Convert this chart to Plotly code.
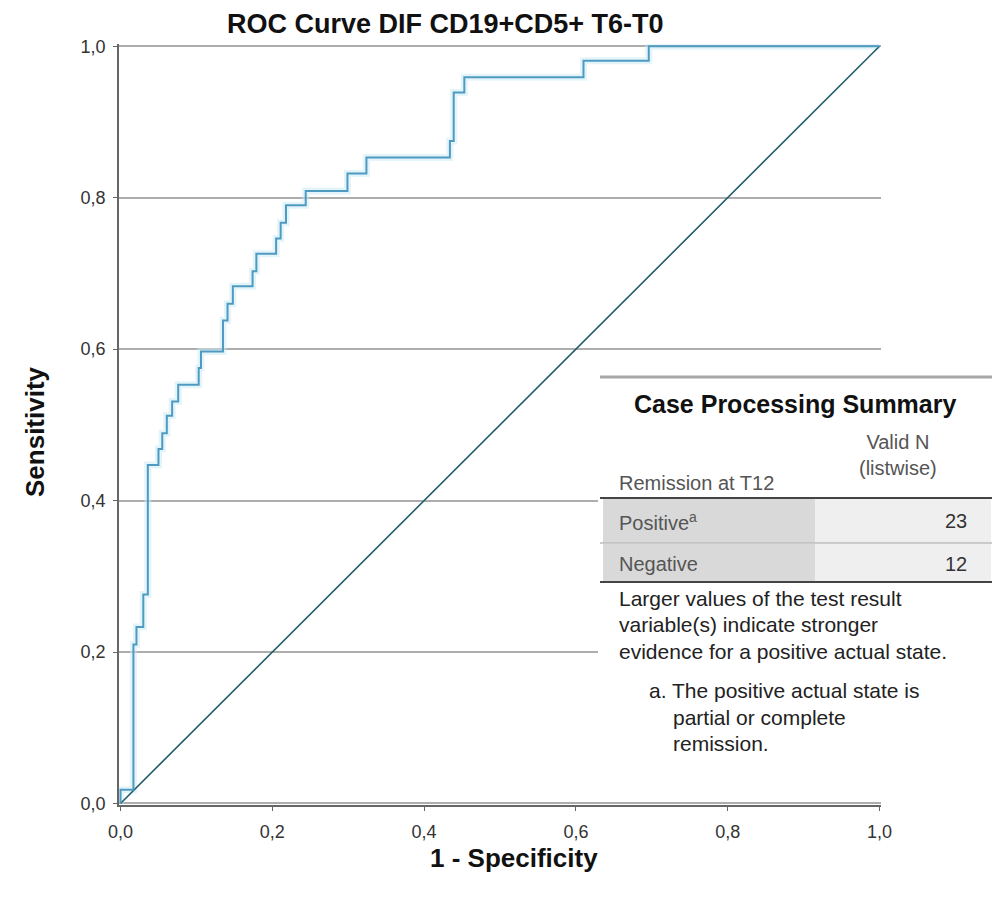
import plotly.graph_objects as go

# ---- data ----
fpr = [0.0, 0.0, 0.017, 0.021, 0.030, 0.036, 0.050, 0.055, 0.061, 0.068, 0.076,
       0.103, 0.106, 0.135, 0.141, 0.148, 0.174, 0.179, 0.205, 0.211, 0.218,
       0.244, 0.299, 0.324, 0.434, 0.439, 0.453, 0.610, 0.696, 1.0]
tpr = [0.0, 0.018, 0.210, 0.233, 0.276, 0.447, 0.468, 0.489, 0.512, 0.531, 0.553,
       0.575, 0.597, 0.638, 0.660, 0.683, 0.703, 0.726, 0.746, 0.767, 0.790,
       0.809, 0.832, 0.853, 0.875, 0.939, 0.959, 0.981, 1.0, 1.0]
ref_x = [0.0, 1.0]
ref_y = [0.0, 1.0]
tick_vals = [0.0, 0.2, 0.4, 0.6, 0.8, 1.0]

title_text = "ROC Curve DIF CD19+CD5+ T6-T0"
x_title = "1 - Specificity"
y_title = "Sensitivity"

table_title = "Case Processing Summary"
col_header = ["Remission at T12", "Valid N<br>(listwise)"]
row_labels = ["Positive<sup>a</sup>", "Negative"]
row_values = [23, 12]
note_lines = ["Larger values of the test result",
              "variable(s) indicate stronger",
              "evidence for a positive actual state."]
foot_lines = ["a. The positive actual state is", "partial or complete", "remission."]

# ---- layout geometry (screen pixels of the reference; page has an 8px body margin) ----
OFF = 8
W, H = 1000 - OFF, 901 - OFF
L, R, T, B = 119, 881, 44, 805
FONT = "Liberation Sans, Arial, sans-serif"


def px(x):
    return (x - L) / (R - L)


def py(y):
    return (B - y) / (B - T)


fig = go.Figure()
# soft halo around ROC curve
fig.add_trace(go.Scatter(x=fpr, y=tpr, mode="lines", line_shape="hv",
                         line=dict(color="rgba(200,234,246,0.5)", width=7),
                         hoverinfo="skip", showlegend=False))
fig.add_trace(go.Scatter(x=ref_x, y=ref_y, mode="lines",
                         line=dict(color="#1f5e68", width=1.6), showlegend=False))
fig.add_trace(go.Scatter(x=fpr, y=tpr, mode="lines", line_shape="hv",
                         line=dict(color="#4f9ac0", width=2), showlegend=False))

axis_common = dict(tickvals=tick_vals, tickformat=".1f", zeroline=False,
                   showline=True, linecolor="#666666", linewidth=1.5,
                   ticks="outside", ticklen=4, tickcolor="#666666",
                   tickfont=dict(family=FONT, size=18, color="#333333"))

fig.update_xaxes(range=[-0.002, 1.002], showgrid=False, ticklabelstandoff=6, **axis_common)
fig.update_yaxes(range=[-0.002, 1.003], showgrid=True, gridcolor="#adadad",
                 gridwidth=1.5, ticklabelstandoff=4, **axis_common)

shapes = []
# table white backdrop
shapes.append(dict(type="rect", xref="paper", yref="paper", layer="above",
                   x0=px(598), x1=px(1000), y0=py(372), y1=py(780),
                   fillcolor="white", line=dict(width=0)))
# cell fills
for (y0, y1) in [(499, 543), (544, 581)]:
    shapes.append(dict(type="rect", xref="paper", yref="paper", layer="above",
                       x0=px(603), x1=px(815), y0=py(y1), y1=py(y0),
                       fillcolor="#d9d9d9", line=dict(width=0)))
    shapes.append(dict(type="rect", xref="paper", yref="paper", layer="above",
                       x0=px(815), x1=px(991), y0=py(y1), y1=py(y0),
                       fillcolor="#efefef", line=dict(width=0)))
# table rules
shapes.append(dict(type="line", xref="paper", yref="paper", layer="above",
                   x0=px(600), x1=px(997), y0=py(377), y1=py(377),
                   line=dict(color="#a8a8a8", width=3)))
shapes.append(dict(type="line", xref="paper", yref="paper", layer="above",
                   x0=px(600), x1=px(992), y0=py(498), y1=py(498),
                   line=dict(color="#444444", width=2)))
shapes.append(dict(type="line", xref="paper", yref="paper", layer="above",
                   x0=px(600), x1=px(992), y0=py(543), y1=py(543),
                   line=dict(color="#bbbbbb", width=1.5)))
shapes.append(dict(type="line", xref="paper", yref="paper", layer="above",
                   x0=px(600), x1=px(992), y0=py(582), y1=py(582),
                   line=dict(color="#444444", width=2)))

ann = []


def text(s, x, y, size, color="#222222", bold=False, xanchor="left", yanchor="middle", angle=0):
    if bold:
        s = "<b>" + s + "</b>"
    ann.append(dict(text=s, x=px(x), y=py(y), xref="paper", yref="paper",
                    xanchor=xanchor, yanchor=yanchor, showarrow=False, textangle=angle,
                    borderpad=0,
                    font=dict(family=FONT, size=size, color=color)))


text(title_text, 445, 24, 27, color="#111111", bold=True, xanchor="center")
text(x_title, 514, 858, 26, color="#111111", bold=True, xanchor="center")
text(y_title, 35, 432, 26, color="#111111", bold=True, xanchor="center", angle=-90)

text(table_title, 795, 404, 25, color="#111111", bold=True, xanchor="center")
text(col_header[0], 618, 483, 20, color="#555555")
ann.append(dict(text=col_header[1], x=px(898), y=py(455), xref="paper", yref="paper",
                xanchor="center", yanchor="middle", showarrow=False,
                font=dict(family=FONT, size=20, color="#555555")))
row_y = [521, 564]
for lab, val, yy in zip(row_labels, row_values, row_y):
    text(lab, 618, yy, 20, color="#555555")
    text(str(val), 968, yy, 20, color="#333333", xanchor="right")

for i, s in enumerate(note_lines):
    text(s, 618, 598 + i * 26.5, 21, color="#222222")
text(foot_lines[0], 648, 690, 21, color="#222222")
text(foot_lines[1], 672, 717, 21, color="#222222")
text(foot_lines[2], 672, 743, 21, color="#222222")

fig.update_layout(width=W, height=H, autosize=False,
                  margin=dict(l=L - OFF, r=1000 - R, t=T - OFF, b=901 - B),
                  plot_bgcolor="white", paper_bgcolor="white",
                  separators=",.", shapes=shapes, annotations=ann,
                  showlegend=False, font=dict(family=FONT))

fig.write_html("out.html")
